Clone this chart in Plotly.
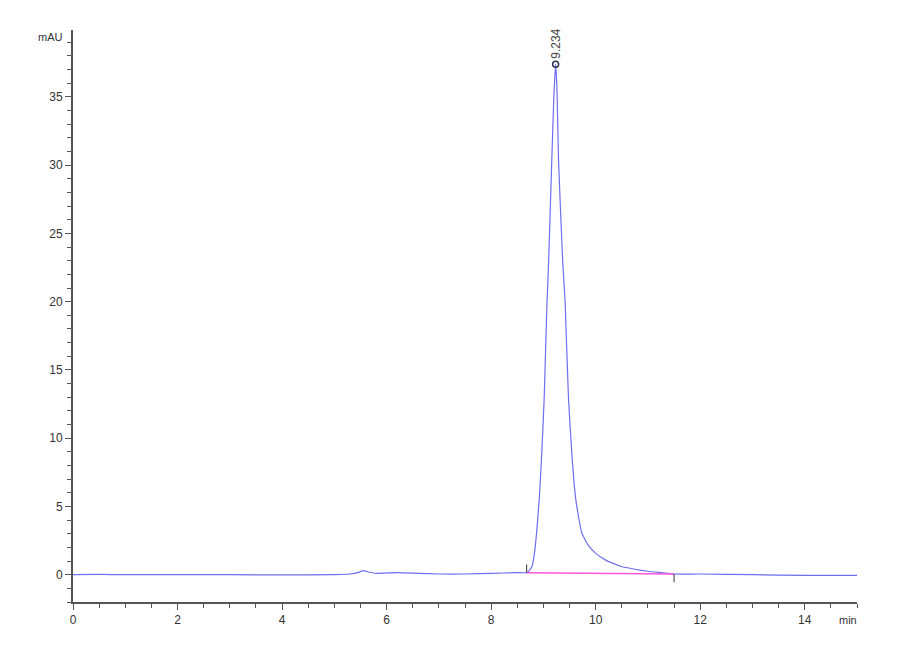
import plotly.graph_objects as go

# chromatogram trace (time in min, signal in mAU)
time_min = [0.0, 0.5, 1.0, 2.0, 3.0, 4.0, 5.0, 5.3, 5.45, 5.55, 5.65, 5.8,
            6.2, 6.6, 7.0, 7.5, 8.0, 8.5, 8.68, 8.73, 8.78, 8.83, 8.87, 8.92,
            8.97, 9.015, 9.065, 9.10, 9.16, 9.20, 9.234, 9.26, 9.29, 9.37,
            9.415, 9.48, 9.55, 9.62, 9.73, 9.85, 9.99, 10.2, 10.49, 10.75,
            11.0, 11.25, 11.5, 12.0, 13.0, 14.0, 15.0]
signal_mau = [0.0, 0.02, 0.0, 0.0, 0.0, -0.02, 0.0, 0.05, 0.15, 0.3, 0.2, 0.1,
              0.15, 0.1, 0.05, 0.05, 0.1, 0.15, 0.15, 0.3, 0.6, 1.6, 3.1, 5.5,
              9.0, 12.9, 19.5, 22.9, 30.3, 35.0, 37.4, 35.5, 30.3, 22.9,
              20.0, 12.9, 8.5, 5.5, 3.1, 2.2, 1.6, 1.05, 0.6, 0.4,
              0.25, 0.15, 0.05, 0.05, 0.0, -0.05, -0.05]

peak_time = [9.234]
peak_height = [37.4]
peak_label = ["9.234"]

baseline_time = [8.68, 11.5]
baseline_mau = [0.15, 0.05]

axis_grey = "#555555"
trace_blue = "#6e6ef0"
text_col = "#333333"
font_name = "Liberation Sans"

fig = go.Figure()

fig.add_trace(go.Scatter(x=time_min, y=signal_mau, mode="lines",
                         line=dict(color=trace_blue, width=1.2, shape="spline", smoothing=0.4),
                         hoverinfo="skip"))

# integration baseline
fig.add_trace(go.Scatter(x=baseline_time, y=baseline_mau, mode="lines",
                         line=dict(color="#ff55dd", width=1.5), hoverinfo="skip"))

# start / end tick marks of the integration
fig.add_trace(go.Scatter(x=[baseline_time[0], baseline_time[0]],
                         y=[baseline_mau[0], baseline_mau[0] + 0.6], mode="lines",
                         line=dict(color="#333333", width=1), hoverinfo="skip"))
fig.add_trace(go.Scatter(x=[baseline_time[1], baseline_time[1]],
                         y=[baseline_mau[1], baseline_mau[1] - 0.6], mode="lines",
                         line=dict(color="#333333", width=1), hoverinfo="skip"))

# apex marker
fig.add_trace(go.Scatter(x=peak_time, y=peak_height, mode="markers",
                         marker=dict(size=6, color="rgba(0,0,0,0)",
                                     line=dict(color="#333355", width=1.5)),
                         hoverinfo="skip"))

for t, h, lab in zip(peak_time, peak_height, peak_label):
    fig.add_annotation(x=t, y=h, text=lab, textangle=-90, showarrow=False,
                       yanchor="bottom", yshift=3,
                       font=dict(family=font_name, size=12, color="#444444"))

fig.add_annotation(xref="paper", yref="y", x=0, y=39.4, xanchor="right",
                   xshift=-8, text="mAU", showarrow=False,
                   font=dict(family=font_name, size=11, color=text_col))
fig.add_annotation(xref="paper", yref="paper", x=1, y=0, yanchor="top",
                   xanchor="right", yshift=-10, xshift=2, text="min", showarrow=False,
                   font=dict(family=font_name, size=11, color=text_col))

fig.update_xaxes(range=[0, 15], dtick=2, tick0=0, ticks="outside", ticklen=6,
                 tickcolor=axis_grey, showline=True, linecolor=axis_grey,
                 linewidth=2, showgrid=False, zeroline=False,
                 minor=dict(dtick=0.5, ticks="outside", ticklen=4, tickcolor=axis_grey),
                 tickfont=dict(family=font_name, size=12, color=text_col))
fig.update_yaxes(range=[-2, 39.9], dtick=5, tick0=0, ticks="outside", ticklen=6,
                 tickcolor=axis_grey, showline=True, linecolor=axis_grey,
                 linewidth=2, showgrid=False, zeroline=False,
                 minor=dict(dtick=1, ticks="outside", ticklen=4, tickcolor=axis_grey),
                 tickfont=dict(family=font_name, size=12, color=text_col))

# page adds an 8px body margin, so margins are shifted to land the axes where the reference has them
fig.update_layout(width=900, height=660, showlegend=False,
                  plot_bgcolor="white", paper_bgcolor="white",
                  margin=dict(l=65, r=51, t=22, b=66))

fig.write_html("out.html")
